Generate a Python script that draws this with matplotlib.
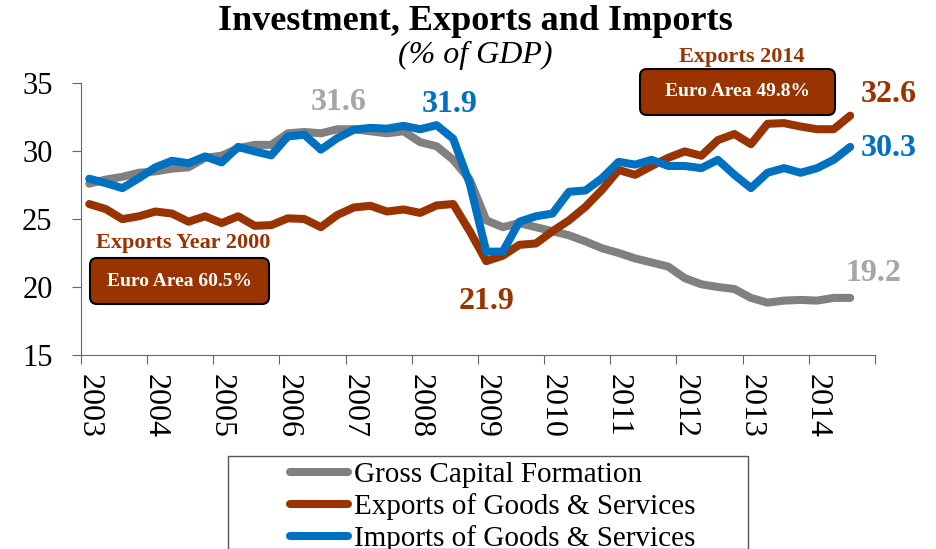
import numpy as np
import matplotlib.pyplot as plt
from matplotlib.patches import FancyBboxPatch, Rectangle
from matplotlib.lines import Line2D
from matplotlib.transforms import IdentityTransform

plt.rcParams['font.family'] = ['Liberation Serif', 'DejaVu Serif']

years = list(range(2003, 2015))

# quarterly values, 2003Q1 .. 2014Q3
gross_capital = [27.6, 27.9, 28.1, 28.4, 28.5, 28.7, 28.8, 29.5, 29.65, 30.2,
                 30.45, 30.45, 31.3, 31.4, 31.3, 31.6, 31.6, 31.45, 31.3, 31.45,
                 30.65, 30.35, 29.35, 27.9, 24.9, 24.4, 24.7, 24.4, 24.1, 23.8,
                 23.35, 22.85, 22.5, 22.1, 21.8, 21.5, 20.65, 20.2, 20.0, 19.85,
                 19.2, 18.85, 19.0, 19.05, 19.0, 19.2, 19.2]
exports = [26.1, 25.73, 24.99, 25.2, 25.55, 25.4, 24.8, 25.2, 24.7, 25.2,
           24.5, 24.55, 25.05, 25.0, 24.4, 25.3, 25.85, 25.97, 25.55, 25.7,
           25.45, 26.0, 26.1, 24.1, 21.9, 22.3, 23.1, 23.2, 24.1, 24.9,
           25.9, 27.15, 28.6, 28.25, 28.9, 29.5, 29.97, 29.65, 30.8, 31.25,
           30.5, 32.0, 32.05, 31.8, 31.6, 31.6, 32.6]
imports = [27.96, 27.64, 27.27, 28.0, 28.8, 29.28, 29.1, 29.6, 29.16, 30.3,
           29.97, 29.68, 31.07, 31.2, 30.1, 30.95, 31.57, 31.7, 31.64, 31.85,
           31.6, 31.9, 30.9, 27.6, 22.6, 22.6, 24.8, 25.2, 25.4, 27.0,
           27.1, 28.0, 29.2, 29.0, 29.35, 28.9, 28.9, 28.74, 29.35, 28.25,
           27.27, 28.4, 28.74, 28.4, 28.74, 29.35, 30.3]

labels = ['Gross Capital Formation', 'Exports of Goods & Services',
          'Imports of Goods & Services']
GRAY, ORANGE, BLUE, LIGHT = '#808080', '#993300', '#0070C0', '#A6A6A6'

W, H = 937, 549
fig = plt.figure(figsize=(W / 100, H / 100), dpi=100)
ax = fig.add_axes([81 / W, 1 - 355 / H, (875 - 81) / W, (355 - 83) / H])

x = np.arange(len(gross_capital))
kw = dict(linewidth=5.8, solid_joinstyle='round', solid_capstyle='round')
ax.plot(x, gross_capital, color=GRAY, label=labels[0], **kw)
ax.plot(x, exports, color=ORANGE, label=labels[1], **kw)
ax.plot(x, imports, color=BLUE, label=labels[2], **kw)

ax.set_xlim(-0.5, 47.5)
ax.set_ylim(15, 35)
ax.set_yticks([15, 20, 25, 30, 35])
ax.set_xticks(np.arange(-0.5, 48, 4))
ax.set_xticklabels([])
ax.set_xticks(np.arange(0, 48, 4), minor=True)
ax.set_xticklabels([str(y) for y in years], minor=True, rotation=-90, fontsize=23)
ax.tick_params(axis='x', which='minor', length=0, pad=14)
ax.tick_params(axis='both', which='major', length=6.5, color='#666666')
ax.tick_params(axis='y', labelsize=22, pad=14)
for s in ['top', 'right']:
    ax.spines[s].set_visible(False)
for s in ['left', 'bottom']:
    ax.spines[s].set_color('#666666')

# end / peak value labels
ax.text(15.1, 33.55, '31.6', color=LIGHT, fontsize=23, fontweight='bold', ha='center', va='center')
ax.text(21.8, 33.4, '31.9', color=BLUE, fontsize=23, fontweight='bold', ha='center', va='center')
ax.text(24.0, 18.9, '21.9', color=ORANGE, fontsize=23, fontweight='bold', ha='center', va='center')
ax.text(48.3, 34.15, '32.6', color=ORANGE, fontsize=23, fontweight='bold', ha='center', va='center', clip_on=False)
ax.text(48.3, 30.2, '30.3', color=BLUE, fontsize=23, fontweight='bold', ha='center', va='center', clip_on=False)
ax.text(47.4, 21.0, '19.2', color=LIGHT, fontsize=23, fontweight='bold', ha='center', va='center', clip_on=False)

# callouts
def callout(head, body, hx, hy, box):
    x0, y0, bw, bh = box
    fig.text(hx / W, 1 - hy / H, head, color=ORANGE, fontsize=16, fontweight='bold',
             ha='center', va='center')
    fig.patches.append(FancyBboxPatch((x0, H - y0 - bh), bw, bh,
                                      boxstyle='round,pad=0,rounding_size=7',
                                      facecolor=ORANGE, edgecolor='black', linewidth=1.5,
                                      transform=IdentityTransform(), figure=fig))
    fig.text((x0 + bw / 2) / W, 1 - (y0 + bh / 2) / H, body, color='white', fontsize=14,
             fontweight='bold', ha='center', va='center')

callout('Exports Year 2000', 'Euro Area 60.5%', 183, 243, (90, 258, 179, 46))
callout('Exports 2014', 'Euro Area 49.8%', 742, 57, (640, 69, 195, 46))

# title
fig.text(475 / W, 1 - 21 / H, 'Investment, Exports and Imports', fontsize=26,
         fontweight='bold', ha='center', va='center')
fig.text(475 / W, 1 - 55 / H, '(% of GDP)', fontsize=23, fontstyle='italic',
         ha='center', va='center')

# legend
fig.patches.append(Rectangle((228 / W, 0), (748 - 228) / W, 1 - 456 / H,
                             transform=fig.transFigure, facecolor='none',
                             edgecolor='#555555', linewidth=1, figure=fig))
handles = [Line2D([], [], color=c, linewidth=5.8, solid_capstyle='round')
           for c in [GRAY, ORANGE, BLUE]]
fig.legend(handles, labels, loc='upper left', bbox_to_anchor=(290 / W, 1 - 462 / H),
           frameon=False, fontsize=21, handlelength=2.0, handletextpad=0.2,
           labelspacing=0.17, borderpad=0, borderaxespad=0)

fig.savefig('out.png', dpi=100)
